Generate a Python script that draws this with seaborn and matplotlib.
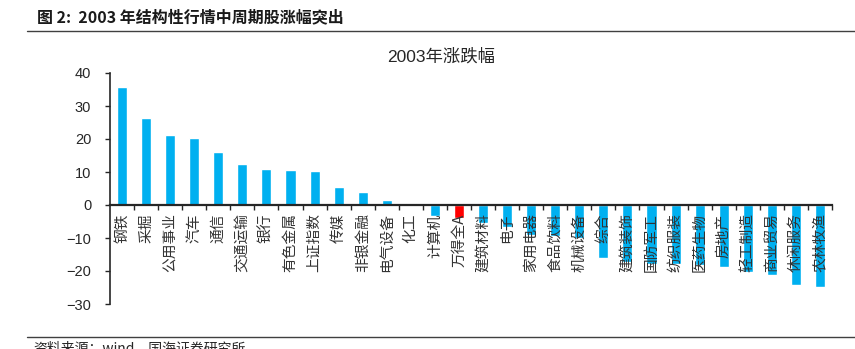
import numpy as np
import pandas as pd
import matplotlib
matplotlib.use("Agg")
import matplotlib.pyplot as plt
import seaborn as sns

categories = ["钢铁", "采掘", "公用事业", "汽车", "通信", "交通运输", "银行", "有色金属",
              "上证指数", "传媒", "非银金融", "电气设备", "化工", "计算机", "万得全A",
              "建筑材料", "电子", "家用电器", "食品饮料", "机械设备", "综合", "建筑装饰",
              "国防军工", "纺织服装", "医药生物", "房地产", "轻工制造", "商业贸易",
              "休闲服务", "农林牧渔"]
values = [35.8, 26.5, 21.3, 20.4, 16.2, 12.4, 11.0, 10.5,
          10.3, 5.6, 3.9, 1.4, 0.5, -3.3, -3.8,
          -5.5, -6.8, -9.0, -9.5, -10.0, -16.0, -17.3,
          -17.8, -18.0, -18.2, -18.8, -20.2, -21.3,
          -24.1, -24.9]
highlight = "万得全A"
y_ticks = [-30, -20, -10, 0, 10, 20, 30, 40]

sns.set_theme(style="white")
plt.rcParams['font.family'] = ['Liberation Sans', 'Noto Sans CJK SC', 'DejaVu Sans']
plt.rcParams['axes.unicode_minus'] = True

df = pd.DataFrame({"cat": categories, "val": values})
palette = {c: ("#FF0000" if c == highlight else "#00B0F0") for c in categories}

fig = plt.figure(figsize=(8.55, 3.49), dpi=100)
ax = fig.add_axes([110 / 855, 1 - 304 / 349, (832 - 110) / 855, (304 - 73) / 349])

sns.barplot(data=df, x="cat", y="val", hue="cat", palette=palette, legend=False,
            width=0.42, ax=ax, saturation=1)

ax.set_axisbelow(False)
ax.set_xlim(-0.5, len(categories) - 0.5)
ax.set_ylim(-30, 40)
ax.set_yticks(y_ticks)
ax.set_xlabel("")
ax.set_ylabel("")

for s in ["top", "right"]:
    ax.spines[s].set_visible(False)
ax.spines["bottom"].set_position(("data", 0))
ax.spines["bottom"].set_color("#262626")
ax.spines["bottom"].set_linewidth(1.6)
ax.spines["left"].set_color("#262626")
ax.spines["left"].set_linewidth(1.2)

ax.tick_params(axis="y", which="major", direction="out", length=3.5, width=1.0,
               color="#262626", pad=10, labelsize=10.5, labelcolor="#262626", left=True)
ax.set_xticks(np.arange(len(categories)))
ax.set_xticklabels(categories, rotation=90, fontsize=10.6,
                   family=['Noto Sans CJK SC', 'DejaVu Sans'], color="#333333")
ax.tick_params(axis="x", which="major", length=0, pad=6, bottom=True)
ax.set_xticks(np.arange(0.5, len(categories), 1), minor=True)
ax.tick_params(axis="x", which="minor", direction="out", length=3.5, width=1.0,
               color="#262626", bottom=True)
for lab in ax.get_xticklabels():
    lab.set_verticalalignment("top")
    lab.set_zorder(5)

ax.grid(False)

# Titles and frame lines
fig.text(37 / 855, 1 - 17 / 349, "图 2:  2003 年结构性行情中周期股涨幅突出",
         fontsize=11.5, fontweight="bold", va="center", ha="left",
         family=['Noto Sans CJK SC', 'DejaVu Sans'], color="#1a1a1a")
fig.add_artist(plt.Line2D([27 / 855, 1.0], [1 - 31 / 349, 1 - 31 / 349],
                          transform=fig.transFigure, color="#404040", linewidth=1.0))
fig.text(441 / 855, 1 - 56 / 349, "2003年涨跌幅", fontsize=12.5, va="center", ha="center",
         family=['Liberation Sans', 'Noto Sans CJK SC'], color="#262626")
fig.add_artist(plt.Line2D([27 / 855, 1.0], [1 - 337 / 349, 1 - 337 / 349],
                          transform=fig.transFigure, color="#404040", linewidth=1.0))
fig.text(33 / 855, 1 - 341 / 349, "资料来源：wind，国海证券研究所", fontsize=10,
         va="top", ha="left", family=['Noto Sans CJK SC', 'DejaVu Sans'], color="#262626")

fig.savefig("out.png", dpi=100)
